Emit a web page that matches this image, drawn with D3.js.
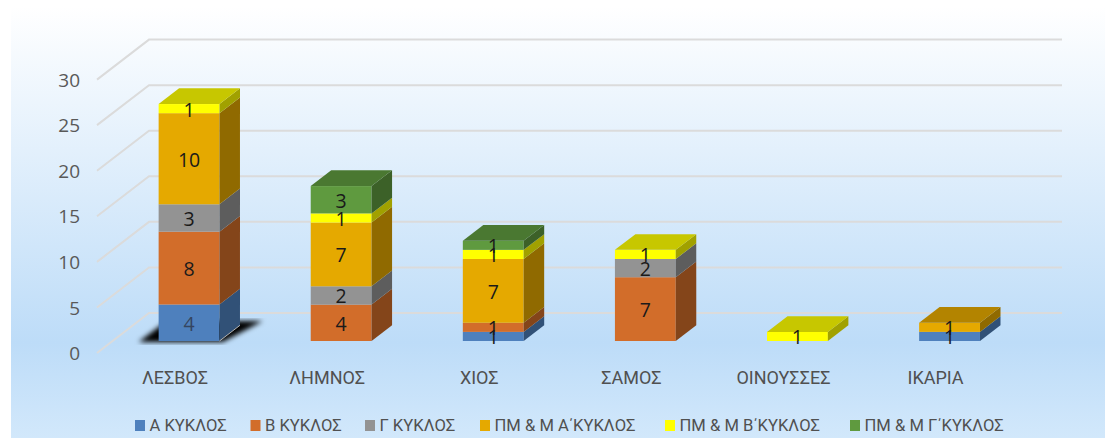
<!DOCTYPE html>
<html>
<head>
<meta charset="utf-8">
<script src="https://cdn.jsdelivr.net/npm/d3@7"></script>
<style>
    html, body { margin: 0; padding: 0; background: #fff; }
    svg { display: block; }
</style>
</head>
<body>
<div id="chart"></div>
<script>
(function() {
    'use strict';

    var categories = ["ΛΕΣΒΟΣ", "ΛΗΜΝΟΣ", "ΧΙΟΣ", "ΣΑΜΟΣ", "ΟΙΝΟΥΣΣΕΣ", "ΙΚΑΡΙΑ"];
    var seriesNames = ["Α ΚΥΚΛΟΣ", "Β ΚΥΚΛΟΣ", "Γ ΚΥΚΛΟΣ", "ΠΜ & Μ Α΄ΚΥΚΛΟΣ", "ΠΜ & Μ Β΄ΚΥΚΛΟΣ", "ΠΜ & Μ Γ΄ΚΥΚΛΟΣ"];
    var seriesColors = ["#4e80bd", "#d26d2a", "#939393", "#e5a900", "#ffff00", "#5f9a3f"];
    var kyklosA = [4, 0, 1, 0, 0, 1];
    var kyklosB = [8, 4, 1, 7, 0, 0];
    var kyklosG = [3, 2, 0, 2, 0, 0];
    var pmA = [10, 7, 7, 0, 0, 1];
    var pmB = [1, 1, 1, 1, 1, 0];
    var pmG = [0, 3, 1, 0, 0, 0];
    var seriesValues = [kyklosA, kyklosB, kyklosG, pmA, pmB, pmG];
    var yTicks = [0, 5, 10, 15, 20, 25, 30];

    var width = 1105, height = 438;
    var svg = d3.select("#chart").append("svg").attr("width", width).attr("height", height);
    var defs = svg.append("defs");

    var bg = defs.append("linearGradient").attr("id", "bg").attr("x1", 0).attr("x2", 0).attr("y1", 0).attr("y2", 1);
    bg.append("stop").attr("offset", "0%").attr("stop-color", "#ffffff");
    bg.append("stop").attr("offset", "78%").attr("stop-color", "#bddcf8");
    bg.append("stop").attr("offset", "100%").attr("stop-color", "#d2e8fb");

    defs.append("filter").attr("id", "blur").append("feGaussianBlur").attr("stdDeviation", 2.6);
    defs.append("filter").attr("id", "soft").append("feGaussianBlur").attr("stdDeviation", 0.4);

    svg.append("rect").attr("x", 11).attr("y", 6).attr("width", width - 11).attr("height", height - 6).attr("fill", "url(#bg)");

    // Front plane of the bars, the walls are offset from it
    var x = d3.scaleBand().domain(categories).range([113, 1025.6]).paddingInner(0.6).paddingOuter(0.3);
    var y = d3.scaleLinear().domain([0, 30]).range([341, 67.6]);
    var floorFront = 12, floorBack = -28, floorLeft = 97, floorBend = 149, floorRight = 1062;
    var depthX = 20.5, depthY = -15.7;

    // Gridlines
    svg.append("g").attr("filter", "url(#soft)").selectAll("path.grid").data(yTicks).enter()
        .append("path")
        .attr("class", "grid")
        .attr("fill", "none")
        .attr("stroke", "#dbdbdb")
        .attr("stroke-width", 2)
        .attr("d", function(d) {
            return d3.line()([
                [floorLeft, y(d) + floorFront],
                [floorBend, y(d) + floorBack],
                [floorRight, y(d) + floorBack]
            ]);
        });

    // Value axis
    var yAxis = d3.axisLeft(y).tickValues(yTicks).tickSize(0).tickPadding(0);
    var yAxisG = svg.append("g").attr("transform", "translate(80," + (floorFront + 0.5) + ")").call(yAxis);
    yAxisG.select(".domain").remove();
    yAxisG.selectAll("text")
        .attr("font-family", "'Open Sans'")
        .attr("font-size", 19)
        .attr("fill", "#595959");

    // Shadow below first bar
    var shadowCat = x(categories[0]);
    svg.append("path")
        .attr("filter", "url(#blur)")
        .attr("fill", "#000")
        .attr("d", d3.line()([
            [shadowCat - 20, y(0) + 1],
            [shadowCat + 64, y(0) + 1],
            [shadowCat + 104, y(0) - 20],
            [shadowCat + 8, y(0) - 20]
        ]) + "Z");

    // Bars
    var stack = d3.stack().keys(d3.range(seriesNames.length)).value(function(row, k) { return row[k]; });
    var rows = categories.map(function(c, i) {
        return seriesValues.map(function(s) { return s[i]; });
    });
    var layers = stack(rows);
    var shade = function(color, k) {
        var c = d3.rgb(color);
        return d3.rgb(c.r * k, c.g * k, c.b * k).formatHex();
    };
    var barsG = svg.append("g");
    var labels = [];

    categories.forEach(function(cat, i) {
        var bx = x(cat), bw = x.bandwidth();
        var g = barsG.append("g");
        var topIdx = -1;
        layers.forEach(function(layer, s) {
            var v = seriesValues[s][i];
            if (!v) return;
            topIdx = s;
            var y0 = y(layer[i][0]), y1 = y(layer[i][1]);
            g.append("rect")
                .attr("x", bx).attr("y", y1).attr("width", bw).attr("height", y0 - y1)
                .attr("fill", seriesColors[s]);
            g.append("path")
                .attr("fill", shade(seriesColors[s], 0.63))
                .attr("d", d3.line()([
                    [bx + bw, y0], [bx + bw, y1],
                    [bx + bw + depthX, y1 + depthY], [bx + bw + depthX, y0 + depthY]
                ]) + "Z");
            labels.push({ x: bx + bw / 2, y: (y0 + y1) / 2, v: v, s: s });
        });
        var yTop = y(layers[topIdx][i][1]);
        g.append("path")
            .attr("fill", shade(seriesColors[topIdx], 0.78))
            .attr("d", d3.line()([
                [bx, yTop], [bx + bw, yTop],
                [bx + bw + depthX, yTop + depthY], [bx + depthX, yTop + depthY]
            ]) + "Z");
    });

    // Light edge where the first bar meets its shadow
    svg.append("path")
        .attr("fill", "none")
        .attr("stroke", "#b4b4b4")
        .attr("stroke-width", 1)
        .attr("d", d3.line()([
            [shadowCat + x.bandwidth(), y(0)],
            [shadowCat + x.bandwidth() + depthX, y(0) + depthY]
        ]));

    // Data labels
    svg.append("g").selectAll("text").data(labels).enter()
        .append("text")
        .attr("x", function(d) { return d.x; })
        .attr("y", function(d) { return d.y + 1; })
        .attr("dy", "0.36em")
        .attr("text-anchor", "middle")
        .attr("font-family", "'Open Sans'")
        .attr("font-size", 19.5)
        .attr("fill", function(d) { return d.s === 0 && d.v > 1 ? "#354560" : "#1a1a1a"; })
        .text(function(d) { return d.v; });

    // Category labels
    svg.append("g").selectAll("text").data(categories).enter()
        .append("text")
        .attr("x", function(d) { return x(d) + x.bandwidth() / 2 - 14; })
        .attr("y", 378)
        .attr("dy", "0.36em")
        .attr("text-anchor", "middle")
        .attr("font-family", "Roboto")
        .attr("font-size", 18)
        .attr("fill", "#505050")
        .text(function(d) { return d; });

    // Legend
    var legendPos = [135, 250.5, 365, 480, 665, 850];
    var legend = svg.append("g").selectAll("g").data(seriesNames).enter().append("g");
    legend.append("rect")
        .attr("x", function(d, i) { return legendPos[i]; })
        .attr("y", 420).attr("width", 10).attr("height", 11)
        .attr("fill", function(d, i) { return seriesColors[i]; });
    legend.append("text")
        .attr("x", function(d, i) { return legendPos[i] + 14.5; })
        .attr("y", 425)
        .attr("dy", "0.36em")
        .attr("font-family", "Roboto")
        .attr("font-size", 16.6)
        .attr("fill", "#505050")
        .text(function(d) { return d; });
})();
</script>
</body>
</html>
